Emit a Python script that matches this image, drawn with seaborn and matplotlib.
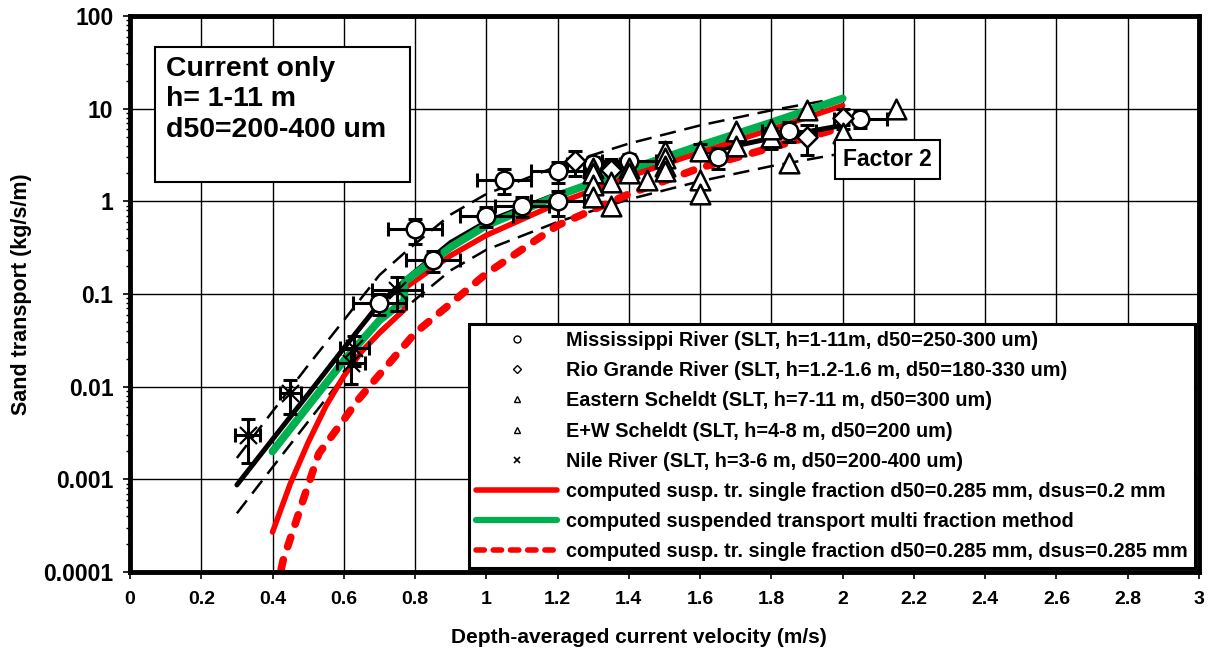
import numpy as np
import pandas as pd
import matplotlib
matplotlib.use("Agg")
import matplotlib.pyplot as plt
import seaborn as sns
from matplotlib.lines import Line2D
from matplotlib.patches import Rectangle
from matplotlib.ticker import LogLocator, NullFormatter

# ---------------- data ----------------
x_ticks = [0, 0.2, 0.4, 0.6, 0.8, 1.0, 1.2, 1.4, 1.6, 1.8, 2.0, 2.2, 2.4, 2.6, 2.8, 3.0]
x_tick_labels = ["0", "0.2", "0.4", "0.6", "0.8", "1", "1.2", "1.4", "1.6", "1.8", "2",
                 "2.2", "2.4", "2.6", "2.8", "3"]
y_ticks = [0.0001, 0.001, 0.01, 0.1, 1, 10, 100]
y_tick_labels = ["0.0001", "0.001", "0.01", "0.1", "1", "10", "100"]

# Mississippi River (circles)
miss_v = [0.70, 0.80, 0.85, 1.00, 1.05, 1.10, 1.20, 1.20, 1.30, 1.40, 1.65, 1.85, 2.05]
miss_q = [0.08, 0.50, 0.23, 0.70, 1.70, 0.90, 2.10, 1.00, 2.50, 2.70, 3.00, 5.80, 7.80]
miss_xerr = [0.075, 0.075, 0.075, 0.075, 0.075, 0.075, 0.075, 0.075, 0.075, 0.075, 0.0, 0.075, 0.075]
miss_yerr_rel = [0.25, 0.30, 0.25, 0.25, 0.30, 0.25, 0.25, 0.30, 0.20, 0.20, 0.25, 0.25, 0.20]

# Rio Grande River (diamonds)
rio_v = [1.25, 1.35, 1.90, 2.00]
rio_q = [2.70, 2.20, 4.90, 8.00]
rio_yerr_rel = [0.30, 0.30, 0.35, 0.25]

# Eastern Scheldt (triangles, with error bars)
es_v = [1.30, 1.40, 1.50, 1.60, 1.80, 2.00]
es_q = [2.3, 2.3, 3.5, 3.5, 4.9, 5.5]
es_yerr_rel = [0.20, 0.20, 0.25, 0.20, 0.25, 0.20]

# E+W Scheldt (triangles)
ew_v = [1.30, 1.30, 1.30, 1.35, 1.35, 1.40, 1.45, 1.50, 1.50, 1.50, 1.60, 1.60,
        1.70, 1.70, 1.80, 1.85, 1.90, 2.15]
ew_q = [2.0, 1.5, 1.1, 1.6, 0.9, 2.0, 1.7, 2.9, 2.4, 2.1, 1.7, 1.2,
        5.8, 4.0, 6.0, 2.6, 9.6, 10.0]

# Nile River (crosses)
nile_v = [0.33, 0.45, 0.62, 0.63, 0.75]
nile_q = [0.0030, 0.0085, 0.018, 0.026, 0.11]
nile_xerr = [0.035, 0.03, 0.04, 0.04, 0.07]
nile_yerr_rel = [0.50, 0.40, 0.40, 0.35, 0.40]

# computed curves
black_v = [0.30, 0.40, 0.50, 0.60, 0.70, 0.78, 0.90, 1.00, 1.20, 1.40, 1.60, 1.80, 2.00]
black_q = [0.00087, 0.0027, 0.0083, 0.026, 0.079, 0.15, 0.36, 0.60, 1.2, 2.1, 3.3, 4.8, 6.6]
upper_q = [0.0017, 0.0054, 0.017, 0.052, 0.16, 0.30, 0.72, 1.2, 2.4, 4.2, 6.6, 9.6, 13.2]
lower_q = [0.00043, 0.00135, 0.0042, 0.013, 0.04, 0.075, 0.18, 0.30, 0.60, 1.05, 1.65, 2.4, 3.3]

green_v = [0.40, 0.50, 0.60, 0.70, 0.77, 0.77, 0.90, 1.00, 1.20, 1.40, 1.60, 1.80, 2.00]
green_q = [0.0020, 0.0062, 0.019, 0.052, 0.085, 0.135, 0.32, 0.55, 1.15, 2.2, 4.0, 7.1, 12.9]

red_v = [0.40, 0.45, 0.50, 0.55, 0.60, 0.65, 0.70, 0.77, 0.77, 0.90, 1.00, 1.20, 1.40, 1.60, 1.80, 2.00]
red_q = [0.00027, 0.0009, 0.0025, 0.0062, 0.013, 0.024, 0.038, 0.068, 0.115, 0.26, 0.43, 0.95,
         1.85, 3.4, 6.0, 10.8]

redd_v = [0.41, 0.43, 0.50, 0.53, 0.60, 0.64, 0.70, 0.80, 0.90, 1.00, 1.20, 1.40, 1.60, 1.80, 2.00]
redd_q = [0.00006, 0.000135, 0.00087, 0.0019, 0.0044, 0.0072, 0.0135, 0.038, 0.079, 0.166,
          0.55, 1.2, 2.3, 3.8, 6.3]

labels = [
    "Mississippi River (SLT, h=1-11m, d50=250-300 um)",
    "Rio Grande River (SLT, h=1.2-1.6 m, d50=180-330 um)",
    "Eastern Scheldt (SLT, h=7-11 m, d50=300 um)",
    "E+W Scheldt (SLT, h=4-8 m, d50=200 um)",
    "Nile River (SLT, h=3-6 m, d50=200-400 um)",
    "computed susp. tr. single fraction d50=0.285 mm, dsus=0.2 mm",
    "computed suspended transport multi fraction method",
    "computed susp. tr. single fraction d50=0.285 mm, dsus=0.285 mm",
]
box_text = "Current only\nh= 1-11 m\nd50=200-400 um"
factor_text = "Factor 2"
x_label = "Depth-averaged current velocity (m/s)"
y_label = "Sand transport (kg/s/m)"

# ---------------- style ----------------
sns.set_theme(style="white")
plt.rcParams['font.family'] = ['Liberation Sans', 'DejaVu Sans']
plt.rcParams['font.weight'] = 'bold'

RED = "#ff0000"
GREEN = "#00b050"

fig = plt.figure(figsize=(12.09, 6.53), dpi=100)
ax = fig.add_axes([130 / 1209, 81 / 653, 1069 / 1209, 556 / 653])
ax.set_yscale('log')
ax.set_xlim(0, 3)
ax.set_ylim(1e-4, 100)
ax.set_axisbelow(True)
ax.grid(True, which='major', color='black', linewidth=1.0)


def curve(v, q, **kw):
    df = pd.DataFrame({"v": v, "q": q})
    sns.lineplot(data=df, x="v", y="q", ax=ax, sort=False, estimator=None, **kw)


curve(black_v, upper_q, color='black', linewidth=1.8, linestyle=(0, (6.5, 3.5)), zorder=2)
curve(black_v, lower_q, color='black', linewidth=1.8, linestyle=(0, (6.5, 3.5)), zorder=2)
curve(redd_v, redd_q, color=RED, linewidth=5.5, linestyle=(0, (1.3, 1.8)),
      dash_capstyle='round', zorder=2.2)
curve(black_v, black_q, color='black', linewidth=3.6, solid_capstyle='round', zorder=2.3)
curve(red_v, red_q, color=RED, linewidth=4.0, solid_capstyle='round', zorder=2.4)
curve(green_v, green_q, color=GREEN, linewidth=5.6, solid_capstyle='round', zorder=2.5)

eb = dict(fmt='none', ecolor='black', elinewidth=2.2, capsize=5, capthick=2.2, zorder=3)
ax.errorbar(miss_v, miss_q, xerr=miss_xerr,
            yerr=[q * r for q, r in zip(miss_q, miss_yerr_rel)], **eb)
ax.errorbar(rio_v, rio_q, yerr=[q * r for q, r in zip(rio_q, rio_yerr_rel)], **eb)
ax.errorbar(es_v, es_q, yerr=[q * r for q, r in zip(es_q, es_yerr_rel)], **eb)
ax.errorbar(nile_v, nile_q, xerr=nile_xerr,
            yerr=[q * r for q, r in zip(nile_q, nile_yerr_rel)], **eb)

sc = dict(ax=ax, facecolor='white', edgecolor='black', linewidth=1.8, zorder=4, legend=False)
sns.scatterplot(x=miss_v, y=miss_q, marker='o', s=160, **sc)
sns.scatterplot(x=rio_v, y=rio_q, marker='D', s=105, **sc)
sns.scatterplot(x=es_v, y=es_q, marker='^', s=200, **sc)
sns.scatterplot(x=ew_v, y=ew_q, marker='^', s=200, **sc)
sns.scatterplot(x=nile_v, y=nile_q, marker='x', s=150, color='black', linewidth=1.6,
                zorder=4, ax=ax, legend=False)

ax.set_xticks(x_ticks)
ax.set_xticklabels(x_tick_labels)
ax.set_yticks(y_ticks)
ax.set_yticklabels(y_tick_labels)
ax.yaxis.set_minor_locator(LogLocator(base=10, subs=np.arange(2, 10)))
ax.yaxis.set_minor_formatter(NullFormatter())
ax.tick_params(axis='both', which='major', direction='out', length=5, width=1.2,
               color='black', left=True, bottom=True)
ax.tick_params(axis='y', which='minor', direction='out', length=3, width=1, color='black', left=True)
ax.tick_params(axis='x', which='major', labelsize=14, pad=9, labelcolor='black')
ax.tick_params(axis='y', which='major', labelsize=16.5, pad=7, labelcolor='black')
for lab in ax.get_xticklabels() + ax.get_yticklabels():
    lab.set_fontweight('bold')

for sp in ax.spines.values():
    sp.set_color('black')
    sp.set_linewidth(3.5)

ax.set_xlabel(x_label, fontsize=15, fontweight='bold', color='black')
ax.xaxis.set_label_coords(0.476, -0.1)
ax.set_ylabel(y_label, fontsize=15.5, fontweight='bold', color='black')
ax.yaxis.set_label_coords(-0.0915, 0.5)

# info box
ax.add_patch(Rectangle((0.0234, 0.701), 0.2385, 0.243, transform=ax.transAxes,
                       facecolor='white', edgecolor='black', linewidth=1.5, zorder=6))
ax.text(0.0337, 0.928, box_text, transform=ax.transAxes, fontsize=20.5, fontweight='bold',
        va='top', ha='left', linespacing=1.22, zorder=7, color='black')

ax.text(0.7086, 0.742, factor_text, transform=ax.transAxes, fontsize=16.5, fontweight='bold',
        va='center', ha='center', zorder=7, color='black',
        bbox=dict(boxstyle='square,pad=0.35', facecolor='white', edgecolor='black', linewidth=1.5))

# legend
mk = dict(ls='none', mfc='white', mec='black', mew=1.0)
handles = [
    Line2D([], [], marker='o', ms=5, **mk),
    Line2D([], [], marker='D', ms=4, **mk),
    Line2D([], [], marker='^', ms=5, **mk),
    Line2D([], [], marker='^', ms=5, **mk),
    Line2D([], [], marker='x', ms=5, ls='none', color='black', mew=1.2),
    Line2D([], [], color=RED, lw=4),
    Line2D([], [], color=GREEN, lw=4.5),
    Line2D([], [], color=RED, lw=4, linestyle=(0, (1.5, 1.6)), dash_capstyle='round'),
]
leg = ax.legend(handles, labels, loc='lower right', bbox_to_anchor=(0.9963, 0.0072),
                fontsize=14.3, frameon=True, fancybox=False, edgecolor='black', framealpha=1,
                borderpad=0.35, labelspacing=0.56, handlelength=4.1, handletextpad=0.45,
                borderaxespad=0)
leg.get_frame().set_linewidth(2.2)
leg.set_zorder(8)
for t in leg.get_texts():
    t.set_fontweight('bold')
    t.set_color('black')

fig.savefig("out.png", dpi=100)
